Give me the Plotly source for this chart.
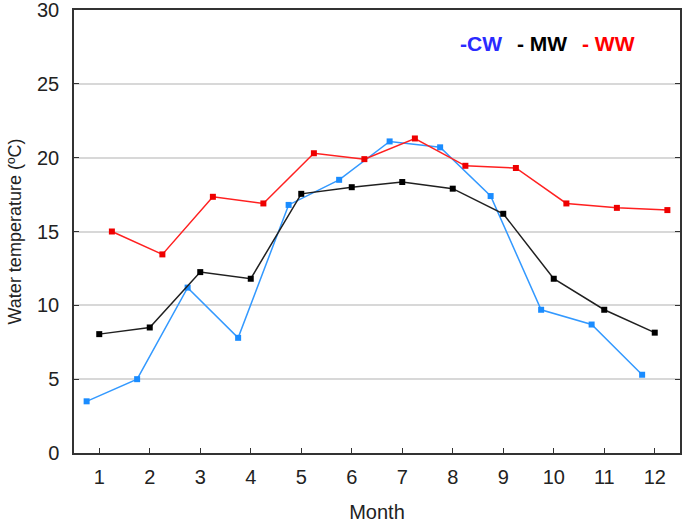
import plotly.graph_objects as go

months = [1, 2, 3, 4, 5, 6, 7, 8, 9, 10, 11, 12]
cw = [3.5, 5.0, 11.2, 7.8, 16.8, 18.5, 21.1, 20.7, 17.4, 9.7, 8.7, 5.3]
mw = [8.05, 8.5, 12.25, 11.8, 17.55, 18.0, 18.35, 17.9, 16.2, 11.8, 9.7, 8.15]
ww = [15.0, 13.45, 17.35, 16.9, 20.3, 19.9, 21.3, 19.45, 19.3, 16.9, 16.6, 16.45]
offsets = {"CW": -0.25, "MW": 0.0, "WW": 0.25}
x_ticks = months
y_ticks = [0, 5, 10, 15, 20, 25, 30]

font = "Liberation Sans, Arial, sans-serif"
W, H = 685, 523
L, T, R, B = 74, 10, 5, 70

fig = go.Figure()
for name, vals, lc, mc in [("CW", cw, "#3399ff", "#1a8cff"),
                           ("MW", mw, "#202020", "#000000"),
                           ("WW", ww, "#ff2020", "#ee0000")]:
    fig.add_trace(go.Scatter(
        x=[m + offsets[name] for m in months], y=vals, mode="lines+markers",
        name=name, line=dict(color=lc, width=1.5),
        marker=dict(symbol="square", size=6, color=mc)))

pw, ph = W - L - R, H - T - B
legend_items = [("-CW", "#2a2aff", 458), ("- MW", "#000000", 515), ("- WW", "#ff0000", 580)]
anns = []
for txt, col, px in legend_items:
    anns.append(dict(x=(px - L) / pw, y=(H - B - 43) / ph, xref="paper", yref="paper",
                     xanchor="left", yanchor="middle", showarrow=False,
                     text="<b>" + txt + "</b>", font=dict(size=21, color=col, family=font)))

fig.update_layout(
    width=W, height=H, showlegend=False,
    paper_bgcolor="white", plot_bgcolor="white",
    margin=dict(l=L, r=R, t=T, b=B, autoexpand=False),
    font=dict(family=font, size=19, color="#222222"),
    annotations=anns,
)
fig.update_xaxes(range=[0.5, 12.5], tickvals=x_ticks, ticks="inside", ticklen=5,
                 tickcolor="#333", showline=True, linecolor="#333", linewidth=1.5,
                 mirror=True, showgrid=False, zeroline=False, automargin=False,
                 tickfont=dict(size=20), ticklabelstandoff=5,
                 title=dict(text="Month", font=dict(size=20), standoff=18))
fig.update_yaxes(range=[0, 30], tickvals=y_ticks, ticks="inside", ticklen=5,
                 tickcolor="#333", showline=True, linecolor="#333", linewidth=1.5,
                 mirror="ticks", showgrid=True, gridcolor="#d8d8d8", gridwidth=1.5,
                 zeroline=False, automargin=False, tickfont=dict(size=20),
                 ticklabelstandoff=9, ticklabeloverflow="allow",
                 title=dict(text="Water temperature (ºC)", font=dict(size=18), standoff=11))
fig.write_html("out.html", config={"displayModeBar": False},
               post_script="document.body.style.margin='0';")
